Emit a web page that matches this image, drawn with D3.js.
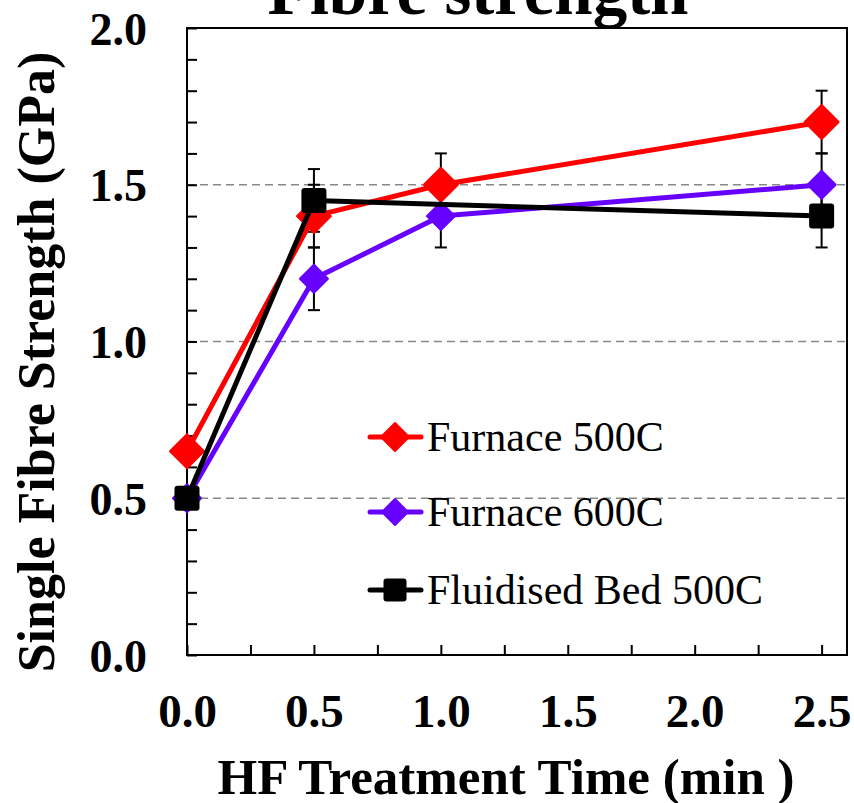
<!DOCTYPE html>
<html>
<head>
<meta charset="utf-8">
<script src="https://cdn.jsdelivr.net/npm/d3@7"></script>
<style>
  body { margin: 0; background: #fff; }
  svg { display: block; font-family: "Liberation Serif", "Times New Roman", serif; }
</style>
</head>
<body>
<div id="chart"></div>
<script>
// data
const times = [0, 0.5, 1.0, 2.5];
const furnace500 = [0.65, 1.4, 1.5, 1.7];
const furnace500Err = [0, 0.1, 0.1, 0.1];
const furnace600 = [0.5, 1.2, 1.4, 1.5];
const furnace600Err = [0, 0.1, 0.1, 0.1];
const fluidTimes = [0, 0.5, 2.5];
const fluid500 = [0.5, 1.45, 1.4];
const fluid500Err = [0, 0.1, 0.1];
const seriesNames = ["Furnace 500C", "Furnace 600C", "Fluidised Bed 500C"];
const xTickLabels = ["0.0", "0.5", "1.0", "1.5", "2.0", "2.5"];
const yTickLabels = ["0.0", "0.5", "1.0", "1.5", "2.0"];

const width = 854, height = 803;
const margins = {top: 28, right: 7, bottom: 148, left: 187};
const serif = '"Liberation Serif", "Times New Roman", serif';

const svg = d3.select("#chart").append("svg")
  .attr("width", width).attr("height", height);

const xScale = d3.scaleLinear().domain([0, 2.6]).range([margins.left, width - margins.right]);
const yScale = d3.scaleLinear().domain([0, 2.0]).range([height - margins.bottom, margins.top]);

const bottomY = yScale(0);
const isHalf = v => Math.abs(v * 2 - Math.round(v * 2)) < 1e-6;

// dashed grid
svg.append("g").selectAll("line")
  .data([0.5, 1.0, 1.5])
  .join("line")
    .attr("x1", xScale(0)).attr("x2", xScale(2.6))
    .attr("y1", d => yScale(d)).attr("y2", d => yScale(d))
    .attr("stroke", "#888").attr("stroke-width", 1.5)
    .attr("stroke-dasharray", "8,5");

// x axis
const xAxis = svg.append("g")
  .attr("transform", "translate(0," + bottomY + ")")
  .call(d3.axisBottom(xScale)
    .tickValues(d3.range(0, 2.51, 0.25))
    .tickSizeInner(-10).tickSizeOuter(0)
    .tickFormat(d => isHalf(d) ? xTickLabels[Math.round(d * 2)] : ""))
  .attr("font-family", serif);
xAxis.select(".domain").remove();
xAxis.selectAll("line").attr("stroke", "#000").attr("stroke-width", 2);
xAxis.selectAll("text")
  .attr("y", 72).attr("dy", null)
  .attr("font-size", 47).attr("font-weight", "bold").attr("fill", "#000");

// y axis
const yAxis = svg.append("g")
  .attr("transform", "translate(" + margins.left + ",0)")
  .call(d3.axisLeft(yScale)
    .tickValues(d3.range(0, 2.01, 0.1))
    .tickSizeInner(-10).tickSizeOuter(0)
    .tickFormat(d => isHalf(d) ? yTickLabels[Math.round(d * 2)] : ""))
  .attr("font-family", serif);
yAxis.select(".domain").remove();
yAxis.selectAll("line").attr("stroke", "#000").attr("stroke-width", 2);
yAxis.selectAll("text")
  .attr("x", -40).attr("dy", 16)
  .attr("font-size", 46).attr("font-weight", "bold").attr("fill", "#000");

// frame
svg.append("rect")
  .attr("x", xScale(0)).attr("y", yScale(2))
  .attr("width", xScale(2.6) - xScale(0)).attr("height", yScale(0) - yScale(2))
  .attr("fill", "none").attr("stroke", "#000").attr("stroke-width", 2);

const series = [
  {name: seriesNames[0], xs: times, ys: furnace500, err: furnace500Err, color: "#ff0000", marker: "diamond", size: 17},
  {name: seriesNames[1], xs: times, ys: furnace600, err: furnace600Err, color: "#6600ff", marker: "diamond", size: 14},
  {name: seriesNames[2], xs: fluidTimes, ys: fluid500, err: fluid500Err, color: "#000000", marker: "square", size: 12.5}
];

function drawMarker(g, s, cx, cy) {
  if (s.marker == "diamond") {
    const r = s.size;
    g.append("path")
      .attr("d", "M" + cx + "," + (cy - r) + "L" + (cx + r) + "," + cy + "L" + cx + "," + (cy + r) + "L" + (cx - r) + "," + cy + "Z")
      .attr("fill", s.color).attr("stroke", s.color).attr("stroke-width", 2).attr("stroke-linejoin", "round");
  } else {
    const h = s.size;
    g.append("rect")
      .attr("x", cx - h).attr("y", cy - h).attr("width", 2 * h).attr("height", 2 * h)
      .attr("rx", 3).attr("fill", s.color);
  }
}

// error bars
const errG = svg.append("g").attr("stroke", "#000").attr("stroke-width", 2);
series.forEach(function (s) {
  s.xs.forEach(function (xv, i) {
    if (s.err[i] <= 0) return;
    const cx = xScale(xv);
    const top = yScale(s.ys[i] + s.err[i]);
    const bot = yScale(s.ys[i] - s.err[i]);
    errG.append("line").attr("x1", cx).attr("x2", cx).attr("y1", top).attr("y2", bot);
    errG.append("line").attr("x1", cx - 6).attr("x2", cx + 6).attr("y1", top).attr("y2", top);
    errG.append("line").attr("x1", cx - 6).attr("x2", cx + 6).attr("y1", bot).attr("y2", bot);
  });
});

// lines + markers, one series after another
const line = d3.line().x(d => xScale(d[0])).y(d => yScale(d[1]));
series.forEach(function (s) {
  const g = svg.append("g");
  const pts = s.xs.map((xv, i) => [xv, s.ys[i]]);
  g.append("path").datum(pts)
    .attr("d", line)
    .attr("fill", "none").attr("stroke", s.color).attr("stroke-width", 5)
    .attr("stroke-linejoin", "round");
  pts.forEach(p => drawMarker(g, s, xScale(p[0]), yScale(p[1])));
});

// legend
const legendRows = [437, 512, 590];
series.forEach(function (s, i) {
  const g = svg.append("g");
  const cy = legendRows[i];
  g.append("line").attr("x1", 370).attr("x2", 421).attr("y1", cy).attr("y2", cy)
    .attr("stroke", s.color).attr("stroke-width", 5).attr("stroke-linecap", "round");
  drawMarker(g, Object.assign({}, s, {size: s.marker == "square" ? 11.5 : (i == 0 ? 14 : 13)}), 395, cy);
  g.append("text").attr("x", 427).attr("y", cy + 14)
    .attr("font-size", 42).attr("fill", "#000").text(s.name);
});

// titles
svg.append("text")
  .attr("x", 478).attr("y", 14)
  .attr("text-anchor", "middle").attr("font-size", 69).attr("font-weight", "bold")
  .text("Fibre strength");

svg.append("text")
  .attr("x", 506).attr("y", 794)
  .attr("text-anchor", "middle").attr("font-size", 51).attr("font-weight", "bold")
  .text("HF Treatment Time (min )");

svg.append("text")
  .attr("transform", "translate(54,362) rotate(-90)")
  .attr("text-anchor", "middle").attr("font-size", 52).attr("font-weight", "bold")
  .text("Single Fibre Strength (GPa)");
</script>
</body>
</html>
